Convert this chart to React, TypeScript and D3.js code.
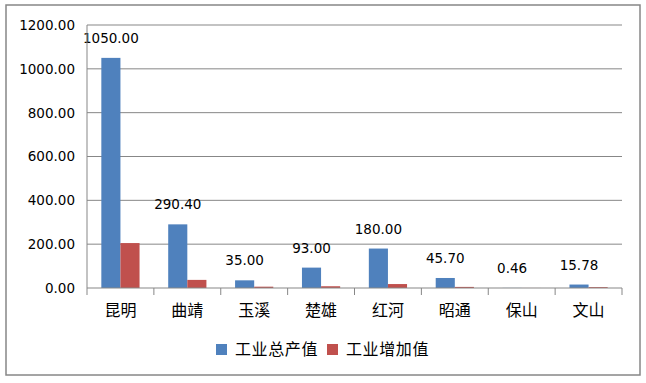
import React from "react";
import * as d3 from "d3";

const categories = ["昆明", "曲靖", "玉溪", "楚雄", "红河", "昭通", "保山", "文山"];
const seriesNames = ["工业总产值", "工业增加值"];
const grossOutput = [1050, 290.4, 35, 93, 180, 45.7, 0.46, 15.78];
const addedValue = [205, 37, 6, 8, 18, 5, 0.2, 4];
const yTicks = [0, 200, 400, 600, 800, 1000, 1200];
const colors = ["#4F81BD", "#C0504D"];

const W = 646;
const H = 383;
const plot = { left: 87, right: 622, top: 25, bottom: 288 };
const numFont = "'DejaVu Sans', Verdana, sans-serif";
const cjkFont = "'Noto Sans CJK SC', sans-serif";

export default function App() {
  const x = d3.scaleBand<string>().domain(categories).range([plot.left, plot.right]).paddingInner(0).paddingOuter(0);
  const y = d3.scaleLinear().domain([0, 1200]).range([plot.bottom, plot.top]);
  const band = x.bandwidth();
  const barW = band / 3.5;
  const series = [grossOutput, addedValue];

  return (
    <svg width={W} height={H} style={{ position: "absolute", left: 0, top: 0 }}>
      <rect x={0} y={0} width={W} height={H} fill="#fff" />
      <rect x={6} y={5} width={634} height={370} fill="#fff" stroke="#878787" strokeWidth={1.5} />
      {yTicks.map((t) => (
        <g key={t}>
          {t > 0 && (
            <line x1={plot.left} x2={plot.right} y1={y(t)} y2={y(t)} stroke="#878787" strokeWidth={1} />
          )}
          <text x={75} y={y(t)} dy="0.36em" textAnchor="end" fontFamily={numFont} fontSize={13.5} fill="#000">
            {t.toFixed(2)}
          </text>
        </g>
      ))}
      {series.map((vals, si) =>
        vals.map((v, i) => {
          const cx = (x(categories[i]) as number) + band / 2;
          const bx = cx - barW + si * barW;
          return (
            <rect key={`${si}-${i}`} x={bx} y={y(v)} width={barW} height={plot.bottom - y(v)} fill={colors[si]} />
          );
        })
      )}
      {grossOutput.map((v, i) => {
        const cx = (x(categories[i]) as number) + band / 2 - barW / 2;
        return (
          <text key={i} x={cx} y={y(v) - 15} textAnchor="middle" fontFamily={numFont} fontSize={13.5} fill="#000">
            {v.toFixed(2)}
          </text>
        );
      })}
      <line x1={plot.left} x2={plot.left} y1={plot.top} y2={plot.bottom} stroke="#878787" strokeWidth={1} />
      <line x1={plot.left} x2={plot.right} y1={plot.bottom} y2={plot.bottom} stroke="#878787" strokeWidth={1} />
      {[...categories.map((c) => x(c) as number), plot.right].map((tx, i) => (
        <line key={i} x1={tx} x2={tx} y1={plot.bottom} y2={plot.bottom + 7} stroke="#878787" strokeWidth={1} />
      ))}
      {categories.map((c) => (
        <text key={c} x={(x(c) as number) + band / 2} y={310} dy="0.36em" textAnchor="middle" fontFamily={cjkFont} fontSize={16} fill="#000">
          {c}
        </text>
      ))}
      {seriesNames.map((n, i) => {
        const lx = i === 0 ? 216 : 327;
        return (
          <g key={n}>
            <rect x={lx} y={344} width={11} height={11} fill={colors[i]} />
            <text x={lx + 19} y={349.5} dy="0.36em" fontFamily={cjkFont} fontSize={16} fill="#000" letterSpacing={0.6}>
              {n}
            </text>
          </g>
        );
      })}
    </svg>
  );
}
